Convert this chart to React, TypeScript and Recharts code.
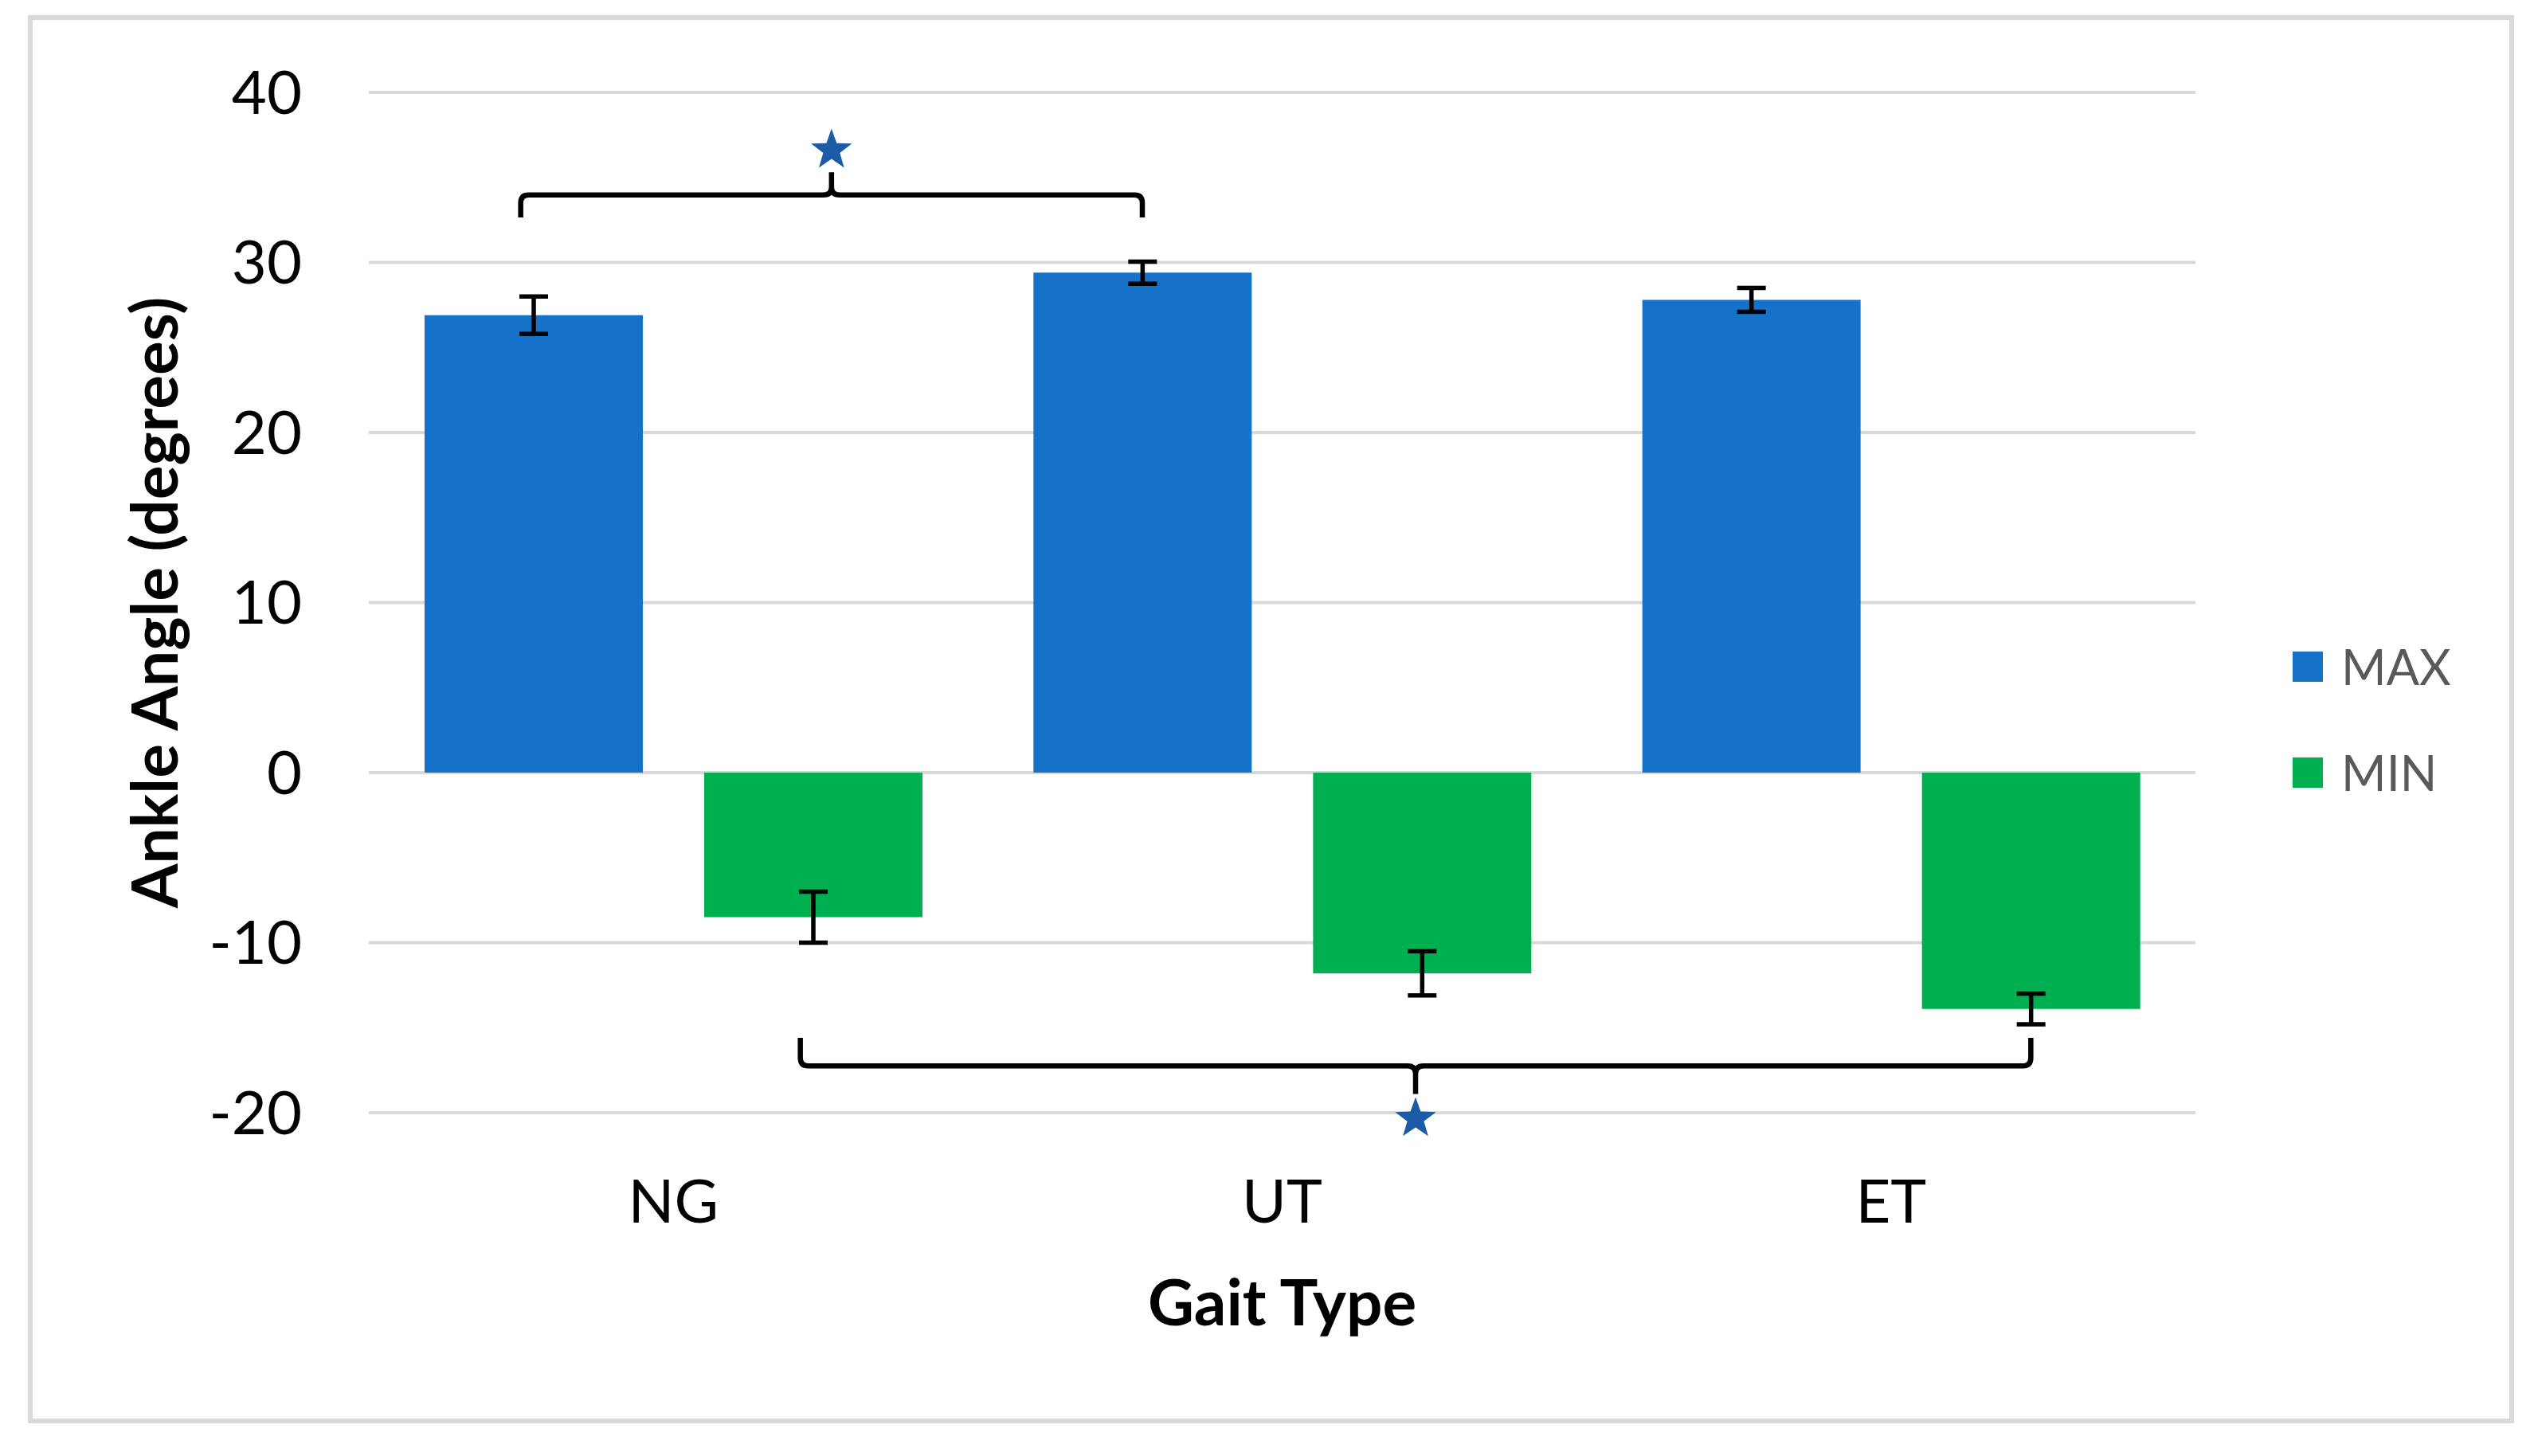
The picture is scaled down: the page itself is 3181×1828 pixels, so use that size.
import React from 'react';
import {
  BarChart,
  Bar,
  XAxis,
  YAxis,
  CartesianGrid,
  Legend,
  ErrorBar,
  ReferenceArea,
} from 'recharts';

const gaitTypes = ['NG', 'UT', 'ET'];
const maxAngle = [26.9, 29.4, 27.8];
const maxError = [1.1, 0.65, 0.7];
const minAngle = [-8.5, -11.8, -13.9];
const minError = [1.5, 1.3, 0.9];
const angleTicks = [-20, -10, 0, 10, 20, 30, 40];

// significance brackets: series, gait types joined, heights in degrees
const bracketSeries = ['MAX', 'MIN'];
const bracketFrom = ['NG', 'NG'];
const bracketTo = ['UT', 'ET'];
const bracketEnd = [32.65, -15.6];
const bracketTip = [35.3, -18.9];
const starLevel = [36.6, -20.35];

const data = gaitTypes.map((name, i) => ({
  name,
  MAX: maxAngle[i],
  maxErr: maxError[i],
  MIN: minAngle[i],
  minErr: minError[i],
}));

const W = 3181;
const H = 1828;
const PLOT_RIGHT = 2756;
const PLOT_TOP = 116;
const PLOT_BOTTOM = 1397;
const BAR_SIZE = 274;
const BAR_GAP = 77;
const LEFT_OVERHANG = 16; // left arm of the brace sits a little left of the bar centre
const FONT = 'Lato, "Open Sans", sans-serif';

// centres of the two end bars, from the band-aware rect of a ReferenceArea
const bracketEnds = (x: number, width: number, from: string, to: string, series: string) => {
  const nBands = gaitTypes.indexOf(to) - gaitTypes.indexOf(from) + 1;
  const band = width / nBands;
  const shift = ((BAR_SIZE + BAR_GAP) / 2) * (series === 'MAX' ? -1 : 1);
  return [x + band / 2 + shift - LEFT_OVERHANG, x + width - band / 2 + shift];
};

const Bracket = (props: any) => {
  const { x, y, width, height, up, from, to, series } = props;
  const [x1, x2] = bracketEnds(x, width, from, to, series);
  const xc = (x1 + x2) / 2;
  const yMid = y + height / 2;
  const yEnd = up ? y + height : y;
  const yTip = up ? y : y + height;
  const r = 10;
  const s = up ? -1 : 1; // direction toward the tip
  const d = [
    `M ${x1} ${yEnd}`,
    `L ${x1} ${yMid - s * r}`,
    `Q ${x1} ${yMid} ${x1 + r} ${yMid}`,
    `L ${xc - r} ${yMid}`,
    `Q ${xc} ${yMid} ${xc} ${yMid + s * r}`,
    `L ${xc} ${yTip}`,
    `M ${xc} ${yMid + s * r}`,
    `Q ${xc} ${yMid} ${xc + r} ${yMid}`,
    `L ${x2 - r} ${yMid}`,
    `Q ${x2} ${yMid} ${x2} ${yMid - s * r}`,
    `L ${x2} ${yEnd}`,
  ].join(' ');
  return <path d={d} fill="none" stroke="#000" strokeWidth={6.5} strokeLinejoin="round" />;
};

const Star = (props: any) => {
  const { x, y, width, height, from, to, series } = props;
  const [x1, x2] = bracketEnds(x, width, from, to, series);
  const cx = (x1 + x2) / 2;
  const cy = y + height / 2;
  const R = 27;
  const r = 11;
  const pts: string[] = [];
  for (let i = 0; i < 10; i++) {
    const a = -Math.PI / 2 + (i * Math.PI) / 5;
    const rad = i % 2 === 0 ? R : r;
    pts.push(`${cx + rad * Math.cos(a)},${cy + rad * Math.sin(a)}`);
  }
  return <polygon points={pts.join(' ')} fill="#1E5BA6" />;
};

const LegendBox = ({ payload }: any) => (
  <div style={{ fontFamily: FONT }}>
    {(payload || []).map((p: any) => (
      <div
        key={p.value}
        style={{ display: 'flex', alignItems: 'center', height: 133 }}
      >
        <div style={{ width: 38, height: 38, background: p.color, marginRight: 23 }} />
        <span style={{ fontSize: 61, color: '#595959', lineHeight: 1 }}>{p.value}</span>
      </div>
    ))}
  </div>
);

export default function App() {
  return (
    <div style={{ position: 'absolute', left: 0, top: 0, width: W, height: H, background: '#fff' }}>
      <div
        style={{
          position: 'absolute',
          left: 35,
          top: 19,
          width: 3156 - 35,
          height: 1787 - 19,
          border: '6px solid #d9d9d9',
          boxSizing: 'border-box',
        }}
      />
      <div style={{ position: 'absolute', left: 0, top: 0 }}>
        <BarChart
          width={W}
          height={H}
          data={data}
          barSize={BAR_SIZE}
          barGap={BAR_GAP}
          margin={{ top: PLOT_TOP, right: W - PLOT_RIGHT, bottom: H - PLOT_BOTTOM - 300, left: 63 }}
        >
          <CartesianGrid vertical={false} stroke="#d9d9d9" strokeWidth={4} />
          <XAxis
            dataKey="name"
            axisLine={false}
            tickLine={false}
            tickSize={0}
            tickMargin={84}
            height={300}
            tick={{ fontSize: 76, fill: '#000', fontFamily: FONT }}
            label={{
              value: 'Gait Type',
              position: 'insideBottom',
              offset: 33,
              style: { fontSize: 80, fontWeight: 700, fill: '#000', fontFamily: FONT },
            }}
          />
          <YAxis
            domain={[-20, 40]}
            ticks={angleTicks}
            axisLine={false}
            tickLine={false}
            tickSize={0}
            tickMargin={84}
            width={400}
            tick={{ fontSize: 76, fill: '#000', fontFamily: FONT }}
            label={{
              value: 'Ankle Angle (degrees)',
              angle: -90,
              position: 'insideLeft',
              offset: 132,
              style: { fontSize: 80, fontWeight: 700, fill: '#000', fontFamily: FONT, textAnchor: 'middle' },
            }}
          />
          <Legend
            layout="vertical"
            align="center"
            verticalAlign="middle"
            wrapperStyle={{ left: 2878, top: 770, width: 260 }}
            content={<LegendBox />}
          />
          <Bar dataKey="MAX" fill="#1672C8" isAnimationActive={false}>
            <ErrorBar dataKey="maxErr" width={18} strokeWidth={5.5} stroke="#000" />
          </Bar>
          <Bar dataKey="MIN" fill="#00B050" isAnimationActive={false}>
            <ErrorBar dataKey="minErr" width={18} strokeWidth={5.5} stroke="#000" />
          </Bar>
          {bracketSeries.map((s, i) => (
            <ReferenceArea
              key={'br' + i}
              x1={bracketFrom[i]}
              x2={bracketTo[i]}
              y1={bracketEnd[i]}
              y2={bracketTip[i]}
              ifOverflow="visible"
              shape={(p: any) => (
                <Bracket {...p} up={bracketTip[i] > bracketEnd[i]} from={bracketFrom[i]} to={bracketTo[i]} series={s} />
              )}
            />
          ))}
          {bracketSeries.map((s, i) => (
            <ReferenceArea
              key={'st' + i}
              x1={bracketFrom[i]}
              x2={bracketTo[i]}
              y1={starLevel[i] - 0.5}
              y2={starLevel[i] + 0.5}
              ifOverflow="visible"
              shape={(p: any) => <Star {...p} from={bracketFrom[i]} to={bracketTo[i]} series={s} />}
            />
          ))}
        </BarChart>
      </div>
    </div>
  );
}
